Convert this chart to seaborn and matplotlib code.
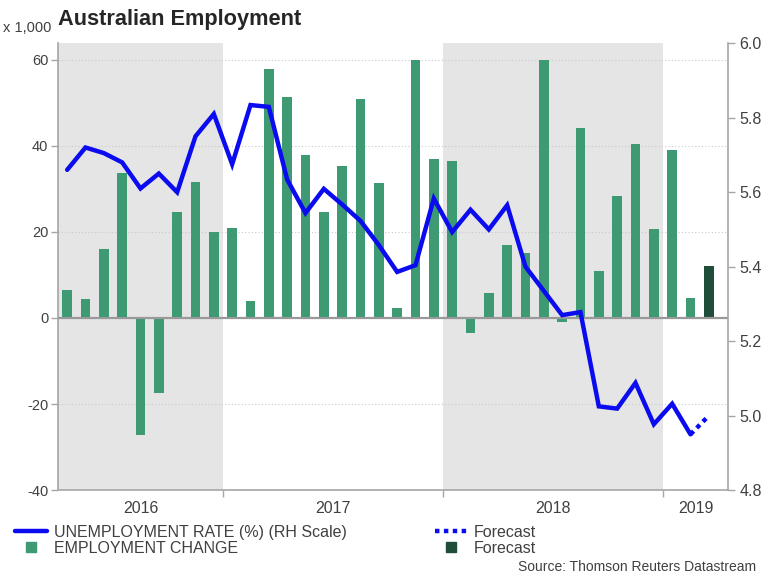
import matplotlib
matplotlib.use('Agg')
import matplotlib.pyplot as plt
from matplotlib.lines import Line2D
import pandas as pd
import seaborn as sns

# monthly data, Apr 2016 .. Feb 2019 (actual), Mar 2019 forecast
months = ['2016-04', '2016-05', '2016-06', '2016-07', '2016-08', '2016-09',
          '2016-10', '2016-11', '2016-12',
          '2017-01', '2017-02', '2017-03', '2017-04', '2017-05', '2017-06',
          '2017-07', '2017-08', '2017-09', '2017-10', '2017-11', '2017-12',
          '2018-01', '2018-02', '2018-03', '2018-04', '2018-05', '2018-06',
          '2018-07', '2018-08', '2018-09', '2018-10', '2018-11', '2018-12',
          '2019-01', '2019-02']
forecast_month = '2019-03'

# employment change (x 1,000)
emp_change = [6.6, 4.5, 16.0, 33.7, -27.3, -17.5, 24.5, 31.5, 20.0,
              20.9, 4.0, 57.7, 51.4, 37.8, 24.6, 35.3, 50.8, 31.4, 2.4, 59.9, 36.8,
              36.5, -3.4, 5.9, 17.0, 15.0, 60.0, -0.9, 44.0, 10.9, 28.3, 40.4, 20.6,
              39.1, 4.6]
emp_forecast = 12.1

# unemployment rate (%)
unemp_rate = [5.66, 5.72, 5.705, 5.68, 5.61, 5.65, 5.60, 5.75, 5.81,
              5.675, 5.834, 5.829, 5.634, 5.544, 5.609, 5.567, 5.523, 5.458, 5.386, 5.404, 5.583,
              5.493, 5.553, 5.50, 5.565, 5.40, 5.335, 5.27, 5.278, 5.025, 5.019, 5.088, 4.977,
              5.032, 4.95]
unemp_forecast = 5.0

years = ['2016', '2017', '2018', '2019']
shaded_years = ['2016', '2018']

BAR = '#3d9a72'
BAR_FC = '#1f4d3a'
BLUE = '#0b0bf0'
GREY_TXT = '#404040'
SPINE = '#a6a6a6'

sns.set_style('white')
plt.rcParams['font.family'] = ['Liberation Sans', 'DejaVu Sans']
plt.rcParams['axes.unicode_minus'] = False

all_months = months + [forecast_month]
pos = {m: i for i, m in enumerate(all_months)}

bars = pd.DataFrame({
    'pos': [pos[m] for m in all_months],
    'value': emp_change + [emp_forecast],
    'kind': ['actual'] * len(months) + ['forecast'],
})

fig = plt.figure(figsize=(7.68, 5.76), dpi=100)
ax = fig.add_axes([0.0755, 0.149, 0.8725, 0.776])

# year boundaries (between Dec and Jan)
first_jan = {y: pos[y + '-01'] - 0.5 for y in years if y + '-01' in pos}
x_lo, x_hi = -0.5, len(all_months) + 0.05
starts = {'2016': x_lo, '2017': first_jan['2017'], '2018': first_jan['2018'], '2019': first_jan['2019']}
ends = {'2016': first_jan['2017'], '2017': first_jan['2018'], '2018': first_jan['2019'], '2019': x_hi}

for y in shaded_years:
    ax.axvspan(starts[y], ends[y], color='#e5e5e5', zorder=0, lw=0)

sns.barplot(data=bars, x='pos', y='value', hue='kind', native_scale=True,
            palette={'actual': BAR, 'forecast': BAR_FC}, width=0.52,
            dodge=False, legend=False, saturation=1, linewidth=0, ax=ax, zorder=2)

ax.axhline(0, color='#999999', lw=1.6, zorder=3)
ax.set_xlim(x_lo, x_hi)
ax.set_ylim(-40, 63.8)
ax.set_yticks([-40, -20, 0, 20, 40, 60])
ax.yaxis.grid(True, linestyle=(0, (1, 2)), color='#c8c8c8', lw=0.8, zorder=1)
ax.set_axisbelow(True)
ax.set_xlabel('')
ax.set_ylabel('')

ax.set_xticks([first_jan['2017'], first_jan['2018'], first_jan['2019']])
ax.set_xticklabels([])
ax.set_xticks([(starts[y] + ends[y]) / 2 for y in years], minor=True)
ax.set_xticklabels(years, minor=True)
ax.tick_params(axis='x', which='major', length=5, color=SPINE, width=1, direction='out', bottom=True)
ax.tick_params(axis='x', which='minor', length=0, pad=8, labelsize=11.5, labelcolor=GREY_TXT)
ax.tick_params(axis='y', length=5, color=SPINE, width=1, direction='out', left=True,
               pad=2, labelsize=10.5, labelcolor=GREY_TXT)

for side in ['left', 'bottom']:
    ax.spines[side].set_color(SPINE)
    ax.spines[side].set_linewidth(1.2)
ax.spines['top'].set_visible(False)
ax.spines['right'].set_visible(False)

# unemployment rate on right axis
ax2 = ax.twinx()
sns.lineplot(x=[pos[m] for m in months], y=unemp_rate, ax=ax2, color=BLUE, lw=3.2,
             solid_joinstyle='miter', zorder=4)
sns.lineplot(x=[pos[months[-1]], pos[forecast_month]], y=[unemp_rate[-1], unemp_forecast],
             ax=ax2, color=BLUE, lw=3.2, linestyle=(0, (1, 1)), dash_capstyle='butt', zorder=4)
ax2.set_ylim(4.8, 6.0)
ax2.set_yticks([4.8, 5.0, 5.2, 5.4, 5.6, 5.8, 6.0])
ax2.set_yticklabels([f'{v:.1f}' for v in [4.8, 5.0, 5.2, 5.4, 5.6, 5.8, 6.0]])
ax2.tick_params(axis='y', right=True, length=5, color=SPINE, width=1, direction='out',
                pad=3, labelsize=11.5, labelcolor=GREY_TXT)
ax2.set_ylabel('')
for side in ['top', 'left', 'bottom']:
    ax2.spines[side].set_visible(False)
ax2.spines['right'].set_color(SPINE)
ax2.spines['right'].set_linewidth(1.2)
ax2.set_xlim(x_lo, x_hi)

# titles and notes
fig.text(0.0755, 0.956, 'Australian Employment', fontsize=15.7, fontweight='bold',
         color='#262626', ha='left', va='baseline')
fig.text(0.004, 0.944, 'x 1,000', fontsize=10.5, color=GREY_TXT, ha='left', va='baseline')
fig.text(0.985, 0.009, 'Source: Thomson Reuters Datastream', fontsize=10, color=GREY_TXT,
         ha='right', va='baseline')

# legends
h_line = Line2D([], [], color=BLUE, lw=3.2)
h_bar = Line2D([], [], color=BAR, marker='s', ms=7.5, linestyle='none')
h_fline = Line2D([], [], color=BLUE, lw=3.2, linestyle=(0, (1, 1)))
h_fbar = Line2D([], [], color=BAR_FC, marker='s', ms=7.5, linestyle='none')

leg_kw = dict(frameon=False, fontsize=11.5, handlelength=2.0, handletextpad=0.45,
              labelspacing=0.08, borderpad=0, borderaxespad=0, labelcolor=GREY_TXT)
fig.legend([h_line, h_bar], ['UNEMPLOYMENT RATE (%) (RH Scale)', 'EMPLOYMENT CHANGE'],
           loc='upper left', bbox_to_anchor=(0.019, 0.089), **leg_kw)
fig.legend([h_fline, h_fbar], ['Forecast', 'Forecast'],
           loc='upper left', bbox_to_anchor=(0.566, 0.089), **leg_kw)

fig.savefig('out.png', dpi=100)
